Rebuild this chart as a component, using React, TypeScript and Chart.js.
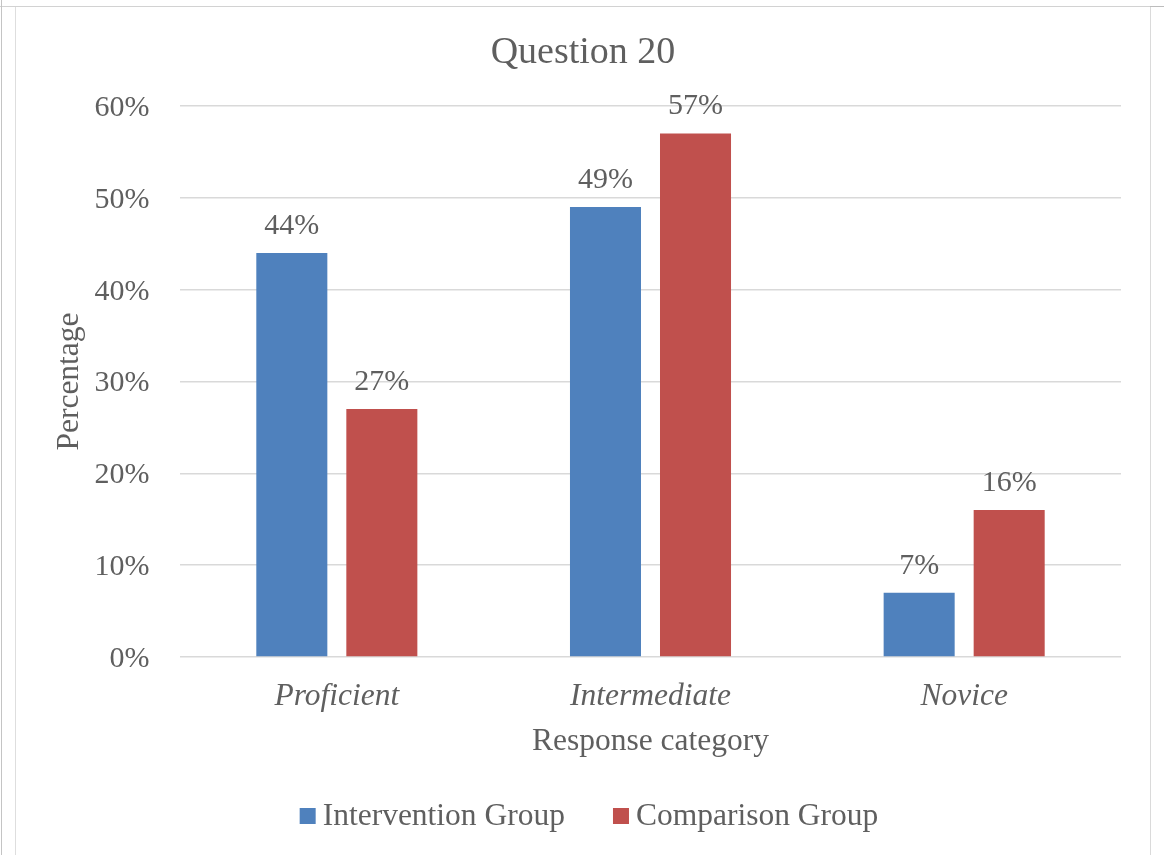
import React, { useEffect, useRef } from "react";
import { Chart, registerables } from "chart.js";

Chart.register(...registerables);

// Chart data
const categories = ["Proficient", "Intermediate", "Novice"];
const seriesNames = ["Intervention Group", "Comparison Group"];
const interventionGroup = [44, 49, 7];
const comparisonGroup = [27, 57, 16];
const seriesColors = ["#4F81BD", "#C0504D"];
const yMax = 60;
const yStep = 10;

const FONT = "'Liberation Serif', 'Times New Roman', serif";
const TEXT = "#5f5f5f";
const GRID = "#d9d9d9";

// Percent labels above each bar
const valueLabels = {
  id: "valueLabels",
  afterDatasetsDraw(chart: any) {
    const ctx = chart.ctx;
    ctx.save();
    ctx.font = `30px ${FONT}`;
    ctx.fillStyle = TEXT;
    ctx.textAlign = "center";
    ctx.textBaseline = "middle";
    chart.data.datasets.forEach((ds: any, di: number) => {
      const meta = chart.getDatasetMeta(di);
      meta.data.forEach((bar: any, i: number) => {
        ctx.fillText(`${ds.data[i]}%`, bar.x, bar.y - 27);
      });
    });
    ctx.restore();
  },
};

// Legend row under the axis title: small square + label per series
const bottomLegend = {
  id: "bottomLegend",
  afterDraw(chart: any) {
    const ctx = chart.ctx;
    ctx.save();
    ctx.font = `31.5px ${FONT}`;
    const box = 16;
    const gap = 7;
    const between = 48;
    const items = chart.data.datasets.map((ds: any) => ({
      label: ds.label,
      color: ds.backgroundColor,
      w: ctx.measureText(ds.label).width,
    }));
    const total =
      items.reduce((s: number, it: any) => s + box + gap + it.w, 0) +
      between * (items.length - 1);
    let x = 572 - total / 2;
    const y = 809;
    ctx.textBaseline = "middle";
    ctx.textAlign = "left";
    items.forEach((it: any) => {
      ctx.fillStyle = it.color;
      ctx.fillRect(x, y - box / 2 - 1, box, box);
      x += box + gap;
      ctx.fillStyle = TEXT;
      ctx.fillText(it.label, x, y);
      x += it.w + between;
    });
    ctx.restore();
  },
};

function QuestionChart() {
  const canvasRef = useRef<HTMLCanvasElement | null>(null);

  useEffect(() => {
    if (!canvasRef.current) return;
    const chart = new Chart(canvasRef.current, {
      type: "bar",
      data: {
        labels: categories,
        datasets: [
          {
            label: seriesNames[0],
            data: interventionGroup,
            backgroundColor: seriesColors[0],
            categoryPercentage: 0.574,
            barPercentage: 0.789,
          },
          {
            label: seriesNames[1],
            data: comparisonGroup,
            backgroundColor: seriesColors[1],
            categoryPercentage: 0.574,
            barPercentage: 0.789,
          },
        ],
      },
      options: {
        responsive: false,
        animation: false,
        layout: { padding: { left: 28, right: 29, top: 0, bottom: 94 } },
        plugins: {
          legend: { display: false },
          tooltip: { enabled: false },
          title: {
            display: true,
            text: "Question 20",
            color: TEXT,
            font: { family: FONT, size: 38, weight: "normal", lineHeight: 1.2 },
            padding: { top: 22.7, bottom: 29.7 },
          },
        },
        scales: {
          x: {
            grid: { display: false, drawTicks: false },
            border: { display: false },
            ticks: {
              color: TEXT,
              padding: 20.5,
              font: { family: FONT, size: 31.5, style: "italic", lineHeight: 1.2 },
            },
            title: {
              display: true,
              text: "Response category",
              color: TEXT,
              font: { family: FONT, size: 31.5, lineHeight: 1.2 },
              padding: { top: 7.9, bottom: 0 },
            },
            afterFit(axis: any) {
              axis.height = 104;
            },
          },
          y: {
            min: 0,
            max: yMax,
            grid: { color: GRID, lineWidth: 1.5, drawTicks: false },
            border: { display: false },
            ticks: {
              stepSize: yStep,
              color: TEXT,
              padding: 30.5,
              labelOffset: 2,
              font: { family: FONT, size: 30, lineHeight: 1.2 },
              callback: (v: any) => `${v}%`,
            },
            title: {
              display: true,
              text: "Percentage",
              color: TEXT,
              font: { family: FONT, size: 31.5, lineHeight: 1.2 },
              padding: { top: 6.1, bottom: 0 },
            },
            afterFit(axis: any) {
              axis.width = 135;
            },
          },
        },
      },
      plugins: [valueLabels, bottomLegend],
    });
    return () => chart.destroy();
  }, []);

  return (
    <canvas
      ref={canvasRef}
      width={1133}
      height={847}
      style={{ position: "absolute", left: 17, top: 8, width: 1133, height: 847 }}
    />
  );
}

export default function App() {
  return (
    <div
      style={{
        position: "absolute",
        left: 0,
        top: 0,
        width: 1164,
        height: 855,
        background: "#ffffff",
        overflow: "hidden",
      }}
    >
      {/* frame lines around the chart */}
      <div style={{ position: "absolute", left: 0, top: 6, width: 1150, height: 1, background: "#d2d2d2" }} />
      <div style={{ position: "absolute", left: 1150, top: 6, width: 14, height: 1, background: "#bcbcbc" }} />
      <div style={{ position: "absolute", left: 1, top: 0, width: 1, height: 855, background: "#c4c4c4" }} />
      <div style={{ position: "absolute", left: 15, top: 7, width: 1, height: 848, background: "#dedede" }} />
      <div style={{ position: "absolute", left: 1150, top: 7, width: 1, height: 848, background: "#dadada" }} />
      <QuestionChart />
    </div>
  );
}
